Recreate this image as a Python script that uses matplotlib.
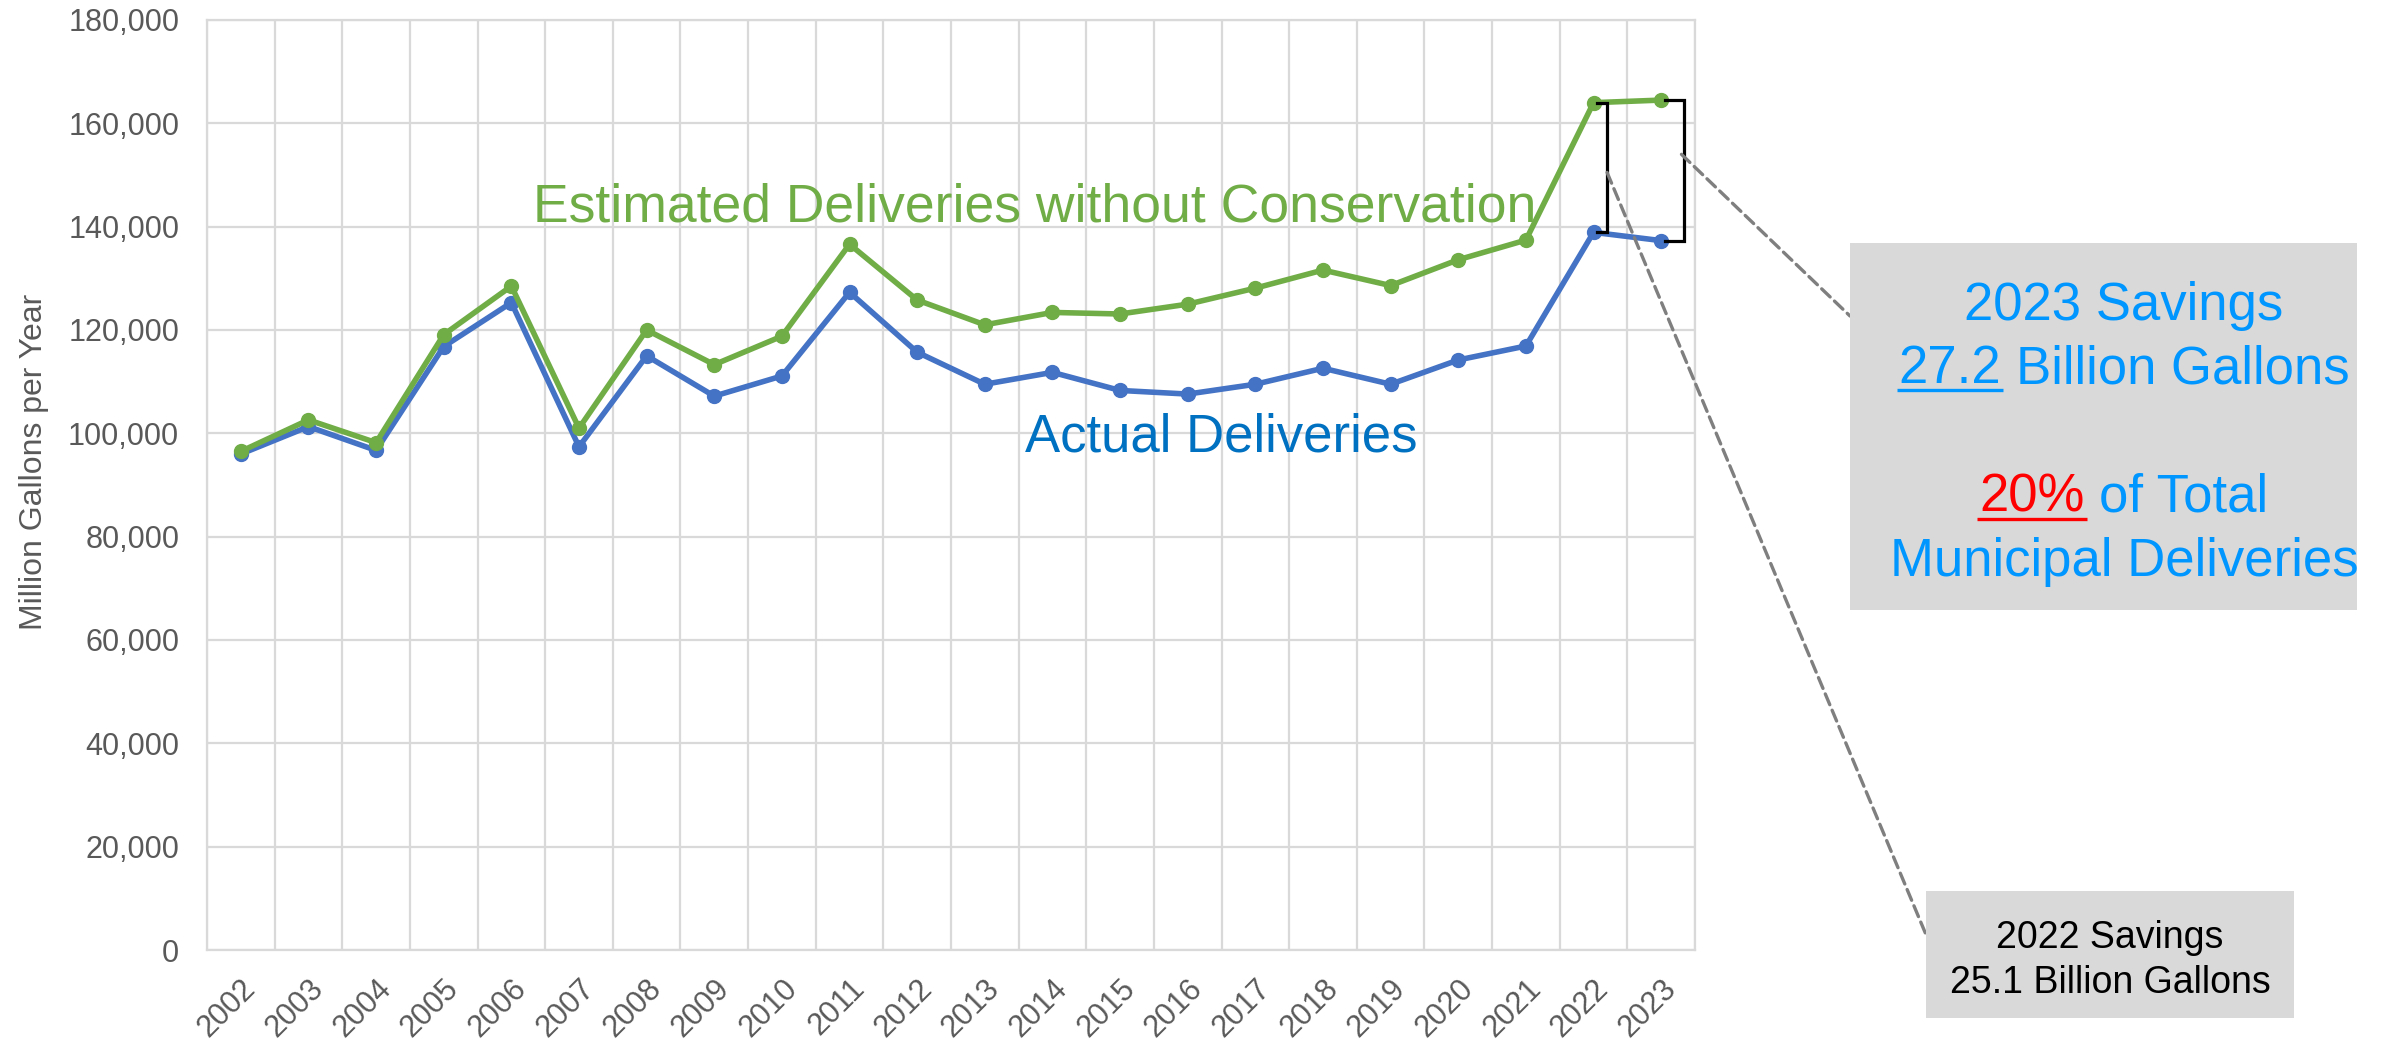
import matplotlib
matplotlib.use('Agg')
import matplotlib.pyplot as plt
from matplotlib.patches import Rectangle, ConnectionPatch
from matplotlib.ticker import FuncFormatter
import numpy as np

plt.rcParams['font.family'] = ['Liberation Sans', 'DejaVu Sans']

# ---------------- data ----------------
years = [str(y) for y in range(2002, 2024)]
actual = [96000, 101300, 96700, 116800, 125300, 97400, 115000, 107200, 111100,
          127300, 115700, 109500, 111800, 108300, 107600, 109500, 112600, 109500,
          114200, 116900, 138900, 137300]
estimated = [96500, 102600, 98200, 119100, 128500, 101000, 120000, 113300, 118800,
             136600, 125800, 121000, 123400, 123100, 125000, 128100, 131600, 128600,
             133600, 137400, 164000, 164500]
yticks = list(range(0, 180001, 20000))
series_label_est = 'Estimated Deliveries without Conservation'
series_label_act = 'Actual Deliveries'
ylabel = 'Million Gallons per Year'

# derived annotation values
sav22 = (estimated[-2] - actual[-2]) / 1000.0
sav23 = (estimated[-1] - actual[-1]) / 1000.0
pct23 = round((estimated[-1] - actual[-1]) / actual[-1] * 100)

# ---------------- styles ----------------
W, H = 2402, 1040
GREEN = '#70AD47'
BLUE = '#4472C4'
LBL_BLUE = '#0070C0'
BOX_BLUE = '#0096FF'
GRID = '#D9D9D9'
TICK = '#595959'

fig = plt.figure(figsize=(W / 100, H / 100), dpi=100)
ax = fig.add_axes([207 / W, 1 - 950 / H, (1695 - 207) / W, (950 - 20) / H])

x = np.arange(len(years))
ax.plot(x, actual, color=BLUE, lw=4, marker='o', ms=10, zorder=3)
ax.plot(x, estimated, color=GREEN, lw=4, marker='o', ms=10, zorder=3)

ax.set_xlim(-0.5, len(years) - 0.5)
ax.set_ylim(yticks[0], yticks[-1])
ax.set_yticks(yticks)
ax.yaxis.set_major_formatter(FuncFormatter(lambda v, p: f'{int(v):,}'))
ax.set_xticks(x)
ax.set_xticklabels(years, rotation=45, ha='right', rotation_mode='anchor')
ax.set_xticks(np.arange(-0.5, len(years), 1), minor=True)
ax.grid(which='minor', axis='x', color=GRID, lw=1.6)
ax.grid(which='major', axis='y', color=GRID, lw=1.6)
ax.grid(which='major', axis='x', visible=False)
ax.set_axisbelow(True)
ax.tick_params(which='both', length=0)
ax.tick_params(axis='y', pad=20, labelsize=22, labelcolor=TICK)
ax.tick_params(axis='x', pad=17, labelsize=22, labelcolor=TICK)
for s in ax.spines.values():
    s.set_color(GRID)
    s.set_linewidth(1.6)
ax.set_ylabel(ylabel, fontsize=23, color=TICK)
ax.yaxis.set_label_coords(-0.1062, 0.525)

# brackets showing savings for the last two years
bracket_off = {20: (0.05, 0.20), 21: (0.06, 0.34)}
for i, (o0, o1) in bracket_off.items():
    ax.plot([i + o0, i + o1, i + o1, i + o0],
            [estimated[i], estimated[i], actual[i], actual[i]],
            color='black', lw=2.3, solid_joinstyle='miter', zorder=4)

# overlay axes in pixel coordinates for annotations
ov = fig.add_axes([0, 0, 1, 1], zorder=5)
ov.set_xlim(0, W)
ov.set_ylim(H, 0)
ov.axis('off')
ov.patch.set_alpha(0)

# dashed leader lines
for (xa, ya), (xb, yb) in [((20.2, 150500), (1927, 937)), ((21.3, 154000), (1850, 316))]:
    con = ConnectionPatch(xyA=(xa, ya), coordsA=ax.transData, xyB=(xb, yb), coordsB=ov.transData,
                          linestyle=(0, (3.5, 1.8)), color='#7F7F7F', lw=2.4, zorder=4)
    fig.add_artist(con)

# boxes
ov.add_patch(Rectangle((1850, 243), 507, 367, facecolor=GRID, edgecolor='none'))
ov.add_patch(Rectangle((1926, 891), 368, 127, facecolor=GRID, edgecolor='none'))

renderer = fig.canvas.get_renderer()


def width_of(s, size):
    t = ov.text(0, 0, s, fontsize=size)
    w = t.get_window_extent(renderer).width
    t.remove()
    return w


def seg_line(cx, y, parts, size):
    full = ''.join(p[0] for p in parts)
    Wf = width_of(full, size)
    x0 = cx - Wf / 2
    prefix = ''
    for txt, col, ul in parts:
        prefix += txt
        core = txt.strip()
        right = x0 + width_of(prefix.rstrip(), size)
        wc = width_of(core, size)
        left = right - wc
        ov.text(left, y, core, fontsize=size, color=col, ha='left', va='baseline')
        if ul:
            ov.plot([left - 2, right + 2], [y + 7, y + 7], color=col, lw=2.4,
                    solid_capstyle='butt')


cx23 = 2124
fs23 = 38
seg_line(cx23, 320, [('2023 Savings', BOX_BLUE, False)], fs23)
seg_line(cx23, 383, [(f'{sav23:.1f}', BOX_BLUE, True), (' Billion Gallons', BOX_BLUE, False)], fs23)
seg_line(cx23, 512, [(f'{pct23}%', 'red', True), (' of Total', BOX_BLUE, False)], fs23)
seg_line(cx23, 576, [('Municipal Deliveries', BOX_BLUE, False)], fs23)

cx22 = 2110
seg_line(cx22, 948, [('2022 Savings', 'black', False)], 27)
seg_line(cx22, 993, [(f'{sav22:.1f} Billion Gallons', 'black', False)], 27)

# series labels
ov.text(533, 222, series_label_est, fontsize=38.5, color=GREEN, ha='left', va='baseline')
ov.text(1025, 452, series_label_act, fontsize=38, color=LBL_BLUE, ha='left', va='baseline')

fig.savefig('out.png', dpi=100)
